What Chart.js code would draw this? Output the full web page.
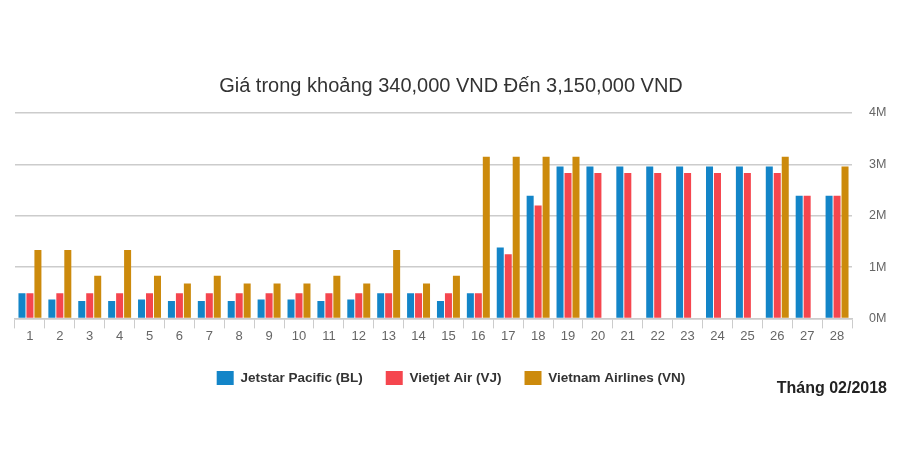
<!DOCTYPE html>
<html>
<head>
<meta charset="utf-8">
<script src="https://cdn.jsdelivr.net/npm/chart.js@4"></script>
<style>
    html, body { margin: 0; padding: 0; background: #fff; }
    #wrap { position: relative; width: 900px; height: 471px; }
    #month {
        position: absolute;
        right: 13px;
        top: 378px;
        font: bold 16px "Liberation Sans", Arial, sans-serif;
        color: #222;
        line-height: 20px;
    }
</style>
</head>
<body>
<div id="wrap">
    <canvas id="priceChart" width="900" height="471"></canvas>
    <div id="month">Tháng 02/2018</div>
</div>
<script>
const days = [
    "1", "2", "3", "4", "5", "6", "7", "8", "9", "10",
    "11", "12", "13", "14", "15", "16", "17", "18", "19", "20",
    "21", "22", "23", "24", "25", "26", "27", "28"
];

// VND
const jetstar = [
    490000, 370000, 340000, 340000, 370000, 340000, 340000, 340000, 370000, 370000,
    340000, 370000, 490000, 490000, 340000, 490000, 1380000, 2390000, 2960000, 2960000,
    2960000, 2960000, 2960000, 2960000, 2960000, 2960000, 2390000, 2390000
];

const vietjet = [
    490000, 490000, 490000, 490000, 490000, 490000, 490000, 490000, 490000, 490000,
    490000, 490000, 490000, 490000, 490000, 490000, 1250000, 2200000, 2830000, 2830000,
    2830000, 2830000, 2830000, 2830000, 2830000, 2830000, 2390000, 2390000
];

const vietnamAirlines = [
    1330000, 1330000, 830000, 1330000, 830000, 680000, 830000, 680000, 680000, 680000,
    830000, 680000, 1330000, 680000, 830000, 3150000, 3150000, 3150000, 3150000, null,
    null, null, null, null, null, 3150000, null, 2960000
];

const yTicks = [0, 1000000, 2000000, 3000000, 4000000];

const fontFamily = '"Liberation Sans", Arial, sans-serif';
const gridColor = '#cccccc';

const ctx = document.getElementById('priceChart');

new Chart(ctx, {
    type: 'bar',
    data: {
        labels: days,
        datasets: [
            {
                label: 'Jetstar Pacific (BL)',
                data: jetstar,
                backgroundColor: '#1385c8'
            },
            {
                label: 'Vietjet Air (VJ)',
                data: vietjet,
                backgroundColor: '#f5464e'
            },
            {
                label: 'Vietnam Airlines (VN)',
                data: vietnamAirlines,
                backgroundColor: '#cc8a0c'
            }
        ]
    },
    options: {
        responsive: false,
        animation: false,
        datasets: {
            bar: {
                categoryPercentage: 0.8,
                barPercentage: 0.88
            }
        },
        layout: {
            padding: { left: 15, right: 13, top: 0, bottom: 76 }
        },
        plugins: {
            title: {
                display: true,
                text: 'Giá trong khoảng 340,000 VND Đến 3,150,000 VND',
                color: '#333',
                font: { family: fontFamily, size: 20, weight: 'normal' },
                padding: { top: 74, bottom: 15 }
            },
            legend: {
                position: 'bottom',
                labels: {
                    boxWidth: 17,
                    boxHeight: 14,
                    padding: 23,
                    color: '#333',
                    font: { family: fontFamily, size: 13.5, weight: 'bold' }
                }
            },
            tooltip: { enabled: false }
        },
        scales: {
            x: {
                afterFit: function (axis) {
                    axis.height += 4;
                },
                grid: {
                    offset: true,
                    drawOnChartArea: false,
                    color: gridColor,
                    tickLength: 10
                },
                border: { color: gridColor, width: 1.5 },
                ticks: {
                    color: '#666',
                    padding: 0,
                    font: { family: fontFamily, size: 13 }
                }
            },
            y: {
                position: 'right',
                min: 0,
                max: 4000000,
                afterBuildTicks: function (axis) {
                    axis.ticks = yTicks.map(v => ({ value: v }));
                },
                afterFit: function (axis) {
                    axis.width = 35;
                },
                grid: {
                    color: gridColor,
                    lineWidth: 1.5,
                    drawTicks: false
                },
                border: { display: false },
                ticks: {
                    color: '#666',
                    padding: 17,
                    font: { family: fontFamily, size: 12.5 },
                    callback: function (value) {
                        return (value / 1000000) + 'M';
                    }
                }
            }
        }
    }
});
</script>
</body>
</html>
